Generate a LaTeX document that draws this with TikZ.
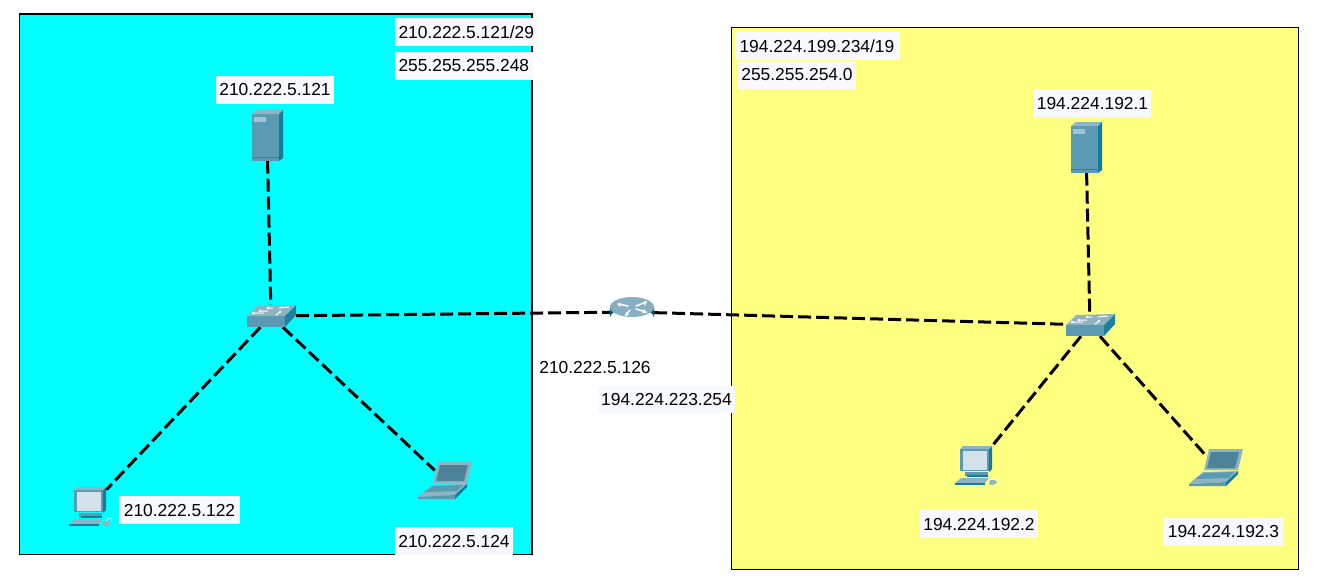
\documentclass[tikz,border=0pt]{standalone}
\usepackage{fontspec}
\setmainfont{Liberation Sans}
\definecolor{labbg}{HTML}{F8F8FF}
\definecolor{cyanbg}{HTML}{00FFFF}
\definecolor{yellowbg}{HTML}{FFFF80}
\definecolor{devfront}{HTML}{5B9AB3}
\definecolor{devtop}{HTML}{8DB4C4}
\definecolor{devside}{HTML}{117C99}
\definecolor{devlight}{HTML}{D3E2EA}
\tikzset{
  x=1pt,y=-1pt,
  lab/.style={fill=labbg,inner sep=0pt,text=black,font=\fontsize{17.4}{20}\selectfont},
  plainlab/.style={inner sep=0pt,text=black,font=\fontsize{17.4}{20}\selectfont},
  link/.style={draw=black,line width=3pt,dash pattern=on 13pt off 5pt},
  anchorbox/.style={inner sep=0pt,rectangle},
  server/.pic={
    \fill[devfront] (-15,-21) rectangle (12,26);
    \fill[devtop] (-15,-21) -- (-10,-25) -- (16,-25) -- (12,-21) -- cycle;
    \fill[devside] (12,-21) -- (16,-25) -- (16,23) -- (12,26) -- cycle;
    \fill[devtop!80!white] (-13,-18) rectangle (-1,-13);
    \draw[devside!70!devfront,line width=.7pt] (-15,22) -- (12,22);
  },
  switchdev/.pic={
    \fill[devtop] (-24,0) -- (-14,-10) -- (25,-11) -- (14,0) -- cycle;
    \fill[devfront] (-24,0) rectangle (14,11);
    \fill[devside!85!devfront] (14,0) -- (25,-11) -- (25,-1) -- (14,11) -- cycle;
    \draw[white,line width=1pt] (-11,-5) -- (-3,-5) (5,-1) -- (9,-4) (-2,-8) -- (2,-8) (8,-8) -- (18,-9) (-18,-3) -- (-7,-3);
    \fill[white] (-11,-5) circle (1.3) (-18,-3) circle (1.3) (9,-4) circle (1.3) (-3,-8) circle (1.3);
  },
  routerdev/.pic={
    \shade[left color=devside!75!black,middle color=white,right color=devside!80!black,shading angle=0]
      (-22,-5) -- (-22,6) arc[start angle=180,end angle=360,x radius=22,y radius=10] -- (22,-5) -- cycle;
    \fill[devtop!85!devfront] (0,-5) ellipse[x radius=22,y radius=10];
    \draw[white,line width=1.5pt,line cap=round] (-14,-8) -- (-4,-6) (14,-10) -- (4,-6) (-6,3) -- (-2,-2) (4,-3) -- (14,0);
    \fill[white] (-15,-8) -- (-12,-5) -- (-11,-9) -- cycle (15,-11) -- (11,-10) -- (13,-6) -- cycle (-7,4) -- (-3,3) -- (-6,0) -- cycle (15,1) -- (12,-3) -- (10,1) -- cycle;
  },
  pcdev/.pic={
    \fill[devfront] (-16,-17) rectangle (13,5);
    \fill[devside] (13,-17) -- (16,-20) -- (16,3) -- (13,6) -- cycle;
    \fill[devtop] (-16,-17) -- (-13,-20) -- (16,-20) -- (13,-17) -- cycle;
    \fill[devlight] (-13,-15) rectangle (11,4);
    \fill[devfront] (-11,6) rectangle (12,10);
    \fill[devside] (-9,9) rectangle (12,11);
    \fill[devtop] (-21,17) -- (-15,12) -- (13,12) -- (9,17) -- cycle;
    \fill[devside] (-21,17) rectangle (9,19);
    \fill[devtop] (14,14) -- (19,14) -- (21,17) -- (16,19) -- (13,18) -- cycle;
    \draw[white,line width=.5pt] (16,14) .. controls (20,9) and (24,11) .. (21,15);
  },
  laptopdev/.pic={
    \fill[devtop] (-7,-18) -- (27,-18) -- (22,3) -- (-12,3) -- cycle;
    \fill[devfront!85!black] (-5,-15) -- (23,-15) -- (19,1) -- (-9,1) -- cycle;
    \fill[devtop] (-27,17) -- (-13,5) -- (22,4) -- (10,15) -- cycle;
    \fill[devfront] (-21,12) -- (-12,6) -- (18,5) -- (12,11) -- cycle;
    \fill[devfront] (-27,17) -- (10,15) -- (10,19) -- (-27,19) -- cycle;
    \fill[devside] (10,15) -- (22,4) -- (22,7) -- (10,19) -- cycle;
  }
}
\begin{document}
\begin{tikzpicture}
\useasboundingbox (0,0) rectangle (1324,584);
\fill[white] (0,0) rectangle (1324,584);
% zones
\draw[fill=cyanbg,draw=black,line width=.8pt] (19,14) rectangle (532,554);
\draw[black,line width=2pt] (19,14) -- (532,14) -- (532,554);
\draw[fill=yellowbg,draw=black,line width=.7pt] (731.5,27.5) rectangle (1298,569);
% device anchors
\node[anchorbox,minimum width=31pt,minimum height=51pt] (srvA) at (267,135) {};
\node[anchorbox,minimum width=50pt,minimum height=22pt] (swA) at (271,316) {};
\node[anchorbox,minimum width=44pt,minimum height=30pt] (rtr) at (632,312) {};
\node[anchorbox,minimum width=36pt,minimum height=34pt] (pcA) at (90,507) {};
\node[anchorbox,minimum width=20pt,minimum height=24pt] (lapA) at (445,480) {};
\node[anchorbox,minimum width=31pt,minimum height=51pt] (srvB) at (1086,147) {};
\node[anchorbox,minimum width=50pt,minimum height=22pt] (swB) at (1090,325) {};
\node[anchorbox,minimum width=36pt,minimum height=34pt] (pcB) at (976,466) {};
\node[anchorbox,minimum width=26pt,minimum height=24pt] (lapB) at (1216,467) {};
% links
\draw[link] (srvA) -- (swA);
\draw[link] (swA) -- (pcA);
\draw[link] (swA) -- (lapA);
\draw[link] (swA) -- (rtr);
\draw[link] (rtr) -- (swB);
\draw[link] (srvB) -- (swB);
\draw[link] (swB) -- (pcB);
\draw[link] (swB) -- (lapB);
% icons
\pic at (srvA) {server};
\pic at (swA) {switchdev};
\pic at (rtr) {routerdev};
\pic at (pcA) {pcdev};
\pic at (lapA) {laptopdev};
\pic at (srvB) {server};
\pic at (swB) {switchdev};
\pic at (pcB) {pcdev};
\pic at (lapB) {laptopdev};
% labels
\node[lab,minimum width=143pt,minimum height=28pt,text width=136pt,align=left] (t1) at (466.5,32) {210.222.5.121/29};
\node[lab,minimum width=138pt,minimum height=28pt,text width=131pt,align=left] (t2) at (464,66) {255.255.255.248};
\node[lab,minimum width=118pt,minimum height=28pt] (t3) at (275,90) {210.222.5.121};
\node[lab,minimum width=121pt,minimum height=28pt] (t4) at (179.5,510) {210.222.5.122};
\node[lab,minimum width=118pt,minimum height=28pt] (t5) at (454,541) {210.222.5.124};
\node[plainlab] (t6) at (595,368) {210.222.5.126};
\node[lab,minimum width=137pt,minimum height=27pt] (t7) at (666.5,399.5) {194.224.223.254};
\node[lab,minimum width=164pt,minimum height=28pt,text width=157pt,align=left] (t8) at (818,46) {194.224.199.234/19};
\node[lab,minimum width=118pt,minimum height=28pt] (t9) at (797,75) {255.255.254.0};
\node[lab,minimum width=117pt,minimum height=27pt] (t10) at (1092.5,103.5) {194.224.192.1};
\node[lab,minimum width=118pt,minimum height=28pt] (t11) at (979,524) {194.224.192.2};
\node[lab,minimum width=119pt,minimum height=27pt] (t12) at (1223.5,531.5) {194.224.192.3};
\end{tikzpicture}
\end{document}
